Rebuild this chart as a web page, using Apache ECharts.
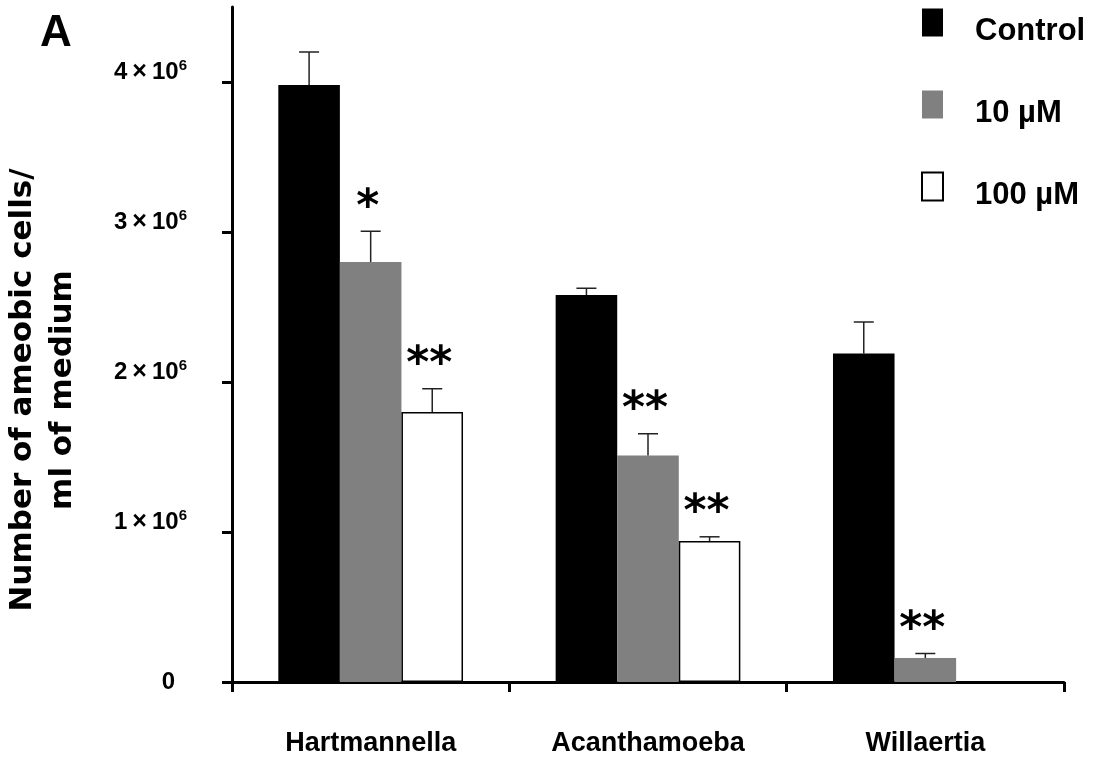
<!DOCTYPE html>
<html><head><meta charset="utf-8">
<script src="https://cdn.jsdelivr.net/npm/echarts@6/dist/echarts.min.js"></script>
<style>html,body{margin:0;padding:0;background:#fff}#c{width:1096px;height:764px}</style>
</head><body><div id="c"></div>
<script>
// ---- data ----
const categories = ['Hartmannella', 'Acanthamoeba', 'Willaertia'];
const seriesNames = ['Control', '10 µM', '100 µM'];
const control = [3.98e6, 2.58e6, 2.19e6];
const um10 = [2.80e6, 1.51e6, 0.16e6];
const um100 = [1.80e6, 0.94e6, 0];
const controlErr = [0.22e6, 0.045e6, 0.21e6];
const um10Err = [0.205e6, 0.145e6, 0.03e6];
const um100Err = [0.155e6, 0.028e6, 0];
const controlSig = ['', '', ''];
const um10Sig = ['*', '**', '**'];
const um100Sig = ['**', '**', ''];
const yTickValues = [0, 1e6, 2e6, 3e6, 4e6];
const yTickText = ['0', '1×10⁶', '2×10⁶', '3×10⁶', '4×10⁶'];
const yMax = 4.5e6;
const yTitle = 'Number of ameobic cells/\nml of medium';
const panelLabel = 'A';

// ---- chart ----
const FONT = '"Liberation Sans", Arial, sans-serif';
const BAR_FRAC = 0.222;
const colors = ['#000000', '#808080', '#ffffff'];
const values = [control, um10, um100];
const errs = [controlErr, um10Err, um100Err];
const sigs = [controlSig, um10Sig, um100Sig];

function barSeries(k) {
  return {
    type: 'bar', name: seriesNames[k], data: values[k],
    barWidth: (BAR_FRAC * 100) + '%', barGap: '0%',
    itemStyle: k === 2 ? { color: '#fff', borderColor: '#000', borderWidth: 1.5 } : { color: colors[k] },
    emphasis: { disabled: true }, z: 2
  };
}
function errSeries(k) {
  return {
    type: 'custom', name: seriesNames[k] + ' error', z: 5, silent: true,
    data: values[k].map((v, i) => [i, v, v + errs[k][i]]),
    encode: { x: 0, y: [1, 2] },
    renderItem: function (params, api) {
      const i = api.value(0);
      const band = api.size([1, 0])[0];
      const bw = band * BAR_FRAC;
      const b = api.coord([i, api.value(1)]);
      const t = api.coord([i, api.value(2)]);
      const x = b[0] + (k - 1) * bw;
      const children = [];
      if (api.value(2) > api.value(1)) {
        children.push({ type: 'line', shape: { x1: x, y1: b[1], x2: x, y2: t[1] }, style: { stroke: '#222', lineWidth: 1.5 } });
        children.push({ type: 'line', shape: { x1: x - 10, y1: t[1], x2: x + 10, y2: t[1] }, style: { stroke: '#222', lineWidth: 1.5 } });
      }
      const s = sigs[k][params.dataIndex];
      if (s) {
        children.push({ type: 'text', x: x - 3, y: t[1] - 1,
          style: { text: s, font: 'bold 44px "DejaVu Sans"', fill: '#000', align: 'center', verticalAlign: 'bottom' } });
      }
      return { type: 'group', children: children };
    }
  };
}

const chart = echarts.init(document.getElementById('c'), null, { renderer: 'canvas' });
chart.setOption({
  animation: false,
  backgroundColor: '#fff',
  title: { text: panelLabel, left: 40, top: 12, padding: 0,
    textStyle: { fontFamily: FONT, fontSize: 44, fontWeight: 'bold', color: '#000' } },
  legend: {
    orient: 'vertical', left: 921, top: -2, padding: 0, icon: 'rect',
    itemWidth: 21, itemHeight: 28, itemGap: 33, selectedMode: false,
    data: seriesNames,
    formatter: function (name) { return '{t|' + name + '}'; },
    textStyle: {
      fontFamily: FONT, fontSize: 31, fontWeight: 'bold', color: '#000',
      rich: { t: { fontFamily: FONT, fontSize: 31, fontWeight: 'bold', color: '#000', lineHeight: 28, padding: [18, 0, 0, 27] } }
    }
  },
  grid: { left: 232, right: 32, top: 7, bottom: 82, containLabel: false },
  xAxis: {
    type: 'category', data: categories,
    axisLine: { lineStyle: { color: '#000', width: 3 } },
    axisTick: { show: true, length: 10, lineStyle: { color: '#000', width: 3 } },
    axisLabel: { fontFamily: FONT, fontSize: 27, fontWeight: 'bold', color: '#000', margin: 48 }
  },
  yAxis: {
    type: 'value', min: 0, max: yMax,
    splitLine: { show: false },
    axisLine: { show: true, lineStyle: { color: '#000', width: 3 } },
    axisTick: { show: true, length: 10, lineStyle: { color: '#000', width: 3 }, customValues: yTickValues },
    axisLabel: {
      customValues: yTickValues, margin: 45, color: '#000',
      formatter: function (v) {
        const idx = yTickValues.indexOf(v);
        const txt = idx >= 0 ? yTickText[idx] : '';
        const m = txt.match(/^(\d+)×10⁶$/);
        if (m) return '{n|' + m[1] + '}{x|×}{n|10}{s|6}\n{g| }';
        return '{z|' + txt + '}';
      },
      rich: {
        n: { fontFamily: FONT, fontSize: 24, fontWeight: 'bold', color: '#000', lineHeight: 28 },
        x: { fontFamily: FONT, fontSize: 25, fontWeight: 'bold', color: '#000', lineHeight: 28, padding: [0, 5, 0, 5] },
        s: { fontFamily: FONT, fontSize: 15, fontWeight: 'bold', color: '#000', lineHeight: 15, verticalAlign: 'top' },
        g: { fontSize: 2, lineHeight: 20 },
        z: { fontFamily: FONT, fontSize: 24, fontWeight: 'bold', color: '#000', padding: [0, 12, 0, 0] }
      }
    }
  },
  graphic: [{
    type: 'text', x: 43, y: 390, rotation: Math.PI / 2,
    style: { text: yTitle, font: 'bold 31px "DejaVu Sans"', fill: '#000', align: 'center', verticalAlign: 'middle', lineHeight: 40 }
  }],
  series: [barSeries(0), barSeries(1), barSeries(2), errSeries(0), errSeries(1), errSeries(2)]
});
</script>
</body></html>
